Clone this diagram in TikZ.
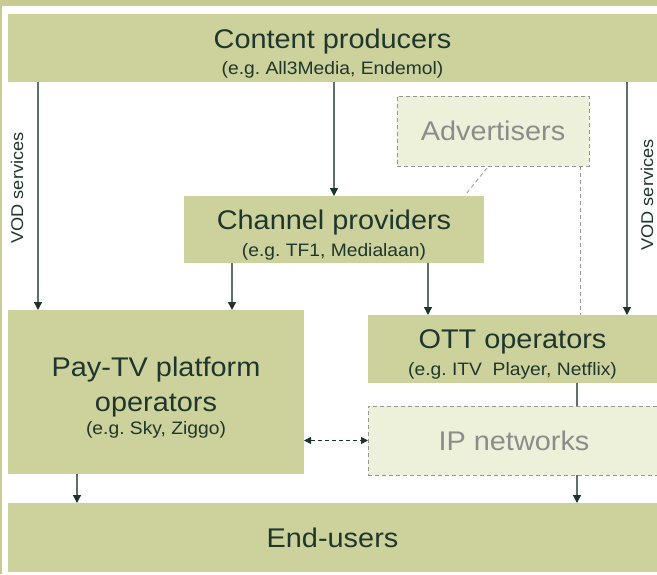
\documentclass[tikz,border=0pt]{standalone}
\usepackage{fontspec}
\setmainfont{Liberation Sans}[FakeStretch=1.07]
\usetikzlibrary{arrows.meta}
\definecolor{olive}{RGB}{205,210,157}
\definecolor{framecol}{RGB}{200,204,146}
\definecolor{ghostfill}{RGB}{238,241,218}
\definecolor{ghostdraw}{RGB}{150,150,150}
\definecolor{ghosttext}{RGB}{140,140,140}
\definecolor{textdark}{RGB}{30,55,45}
\definecolor{linecol}{RGB}{95,112,104}
\definecolor{tipcol}{RGB}{28,52,42}
\frenchspacing

\newcommand{\eg}[1]{{\fontsize{18}{22}\selectfont #1}}
\newcommand{\lift}{\rule{0pt}{30pt}}

\tikzset{
  box/.style={rectangle, fill=olive, text=textdark, anchor=north west,
    inner sep=0pt, outer sep=0pt, align=center,
    font=\fontsize{27}{30}\selectfont},
  ghost/.style={box, fill=ghostfill, draw=ghostdraw, text=ghosttext,
    line width=0.8pt, dash pattern=on 4pt off 3pt},
  flow/.style={draw=linecol, line width=1.2pt,
    -{Triangle[width=8pt,length=8pt,color=tipcol,fill=tipcol]}},
  plain/.style={draw=linecol, line width=1.2pt},
  dashline/.style={draw=ghostdraw, line width=0.8pt, dash pattern=on 4pt off 3pt},
  biflow/.style={draw=tipcol, line width=1pt, dash pattern=on 4pt off 3pt,
    {Triangle[width=7pt,length=7pt]}-{Triangle[width=7pt,length=7pt]}},
  vod/.style={rotate=90, text=textdark, inner sep=0pt,
    font=\fontsize{17}{20}\selectfont}
}

\begin{document}
\begin{tikzpicture}[x=1pt,y=-1pt]
\useasboundingbox (0,0) rectangle (657,574);

% frame
\fill [framecol] (0,0) rectangle (657,6);
\fill [framecol] (0,0) rectangle (1.5,574);

% boxes
\node [box,minimum width=649pt,minimum height=68pt] (content) at (8,14)
  {\lift Content producers\\[-4pt]\eg{(e.g. All3Media, Endemol)}};
\node [ghost,minimum width=192pt,minimum height=70pt] (adv) at (397,96) {Advertisers};
\node [box,minimum width=300pt,minimum height=67pt] (channel) at (184,196)
  {\lift Channel providers\\[-3pt]\eg{(e.g. TF1, Medialaan)}};
\node [box,minimum width=296pt,minimum height=164pt] (paytv) at (8,310)
  {\lift Pay-TV platform\\[5pt]operators\\[-7pt]\eg{(e.g. Sky, Ziggo)}};
\node [box,minimum width=289pt,minimum height=68pt] (ott) at (368,315)
  {\lift OTT operators\\[-3pt]\eg{(e.g. ITV~~Player, Netflix)}};
\node [ghost,minimum width=292pt,minimum height=69pt] (ip) at (368,406) {IP networks};
\node [box,minimum width=649pt,minimum height=69pt] (endusers) at (8,503) {End-users};

% side labels
\node [vod] (vodleft) at (17,188) {VOD services};
\node [vod] (vodright) at (647,195) {VOD services};

% arrows
\draw [flow] ([xshift=30pt]content.south west) -- ([xshift=30pt]paytv.north west);
\draw [flow] (channel.north |- content.south) -- (channel.north);
\draw [flow] ([xshift=-30pt]content.south east) -- ([xshift=-30pt]ott.north east);
\draw [flow] ([xshift=48pt]channel.south west) -- ([xshift=224pt]paytv.north west);
\draw [flow] ([xshift=-56pt]channel.south east) -- ([xshift=60pt]ott.north west);
\draw [plain] ([xshift=209pt]ott.south west) -- ([xshift=209pt]ip.north west);
\draw [flow] ([xshift=209pt]ip.south west) coordinate (ipdown) -- (ipdown |- endusers.north);
\draw [flow] ([xshift=69pt]paytv.south west) -- ([xshift=69pt]endusers.north west);
\draw [biflow] (paytv.east |- ip.west) -- (ip.west);

% advertisers links
\draw [dashline] ([xshift=-6pt,yshift=-2pt]adv.south) -- ([xshift=-18pt,yshift=2pt]channel.north east);
\draw [dashline] ([xshift=-9pt]adv.south east) coordinate (advleg) -- (advleg |- ott.north);

\end{tikzpicture}
\end{document}
